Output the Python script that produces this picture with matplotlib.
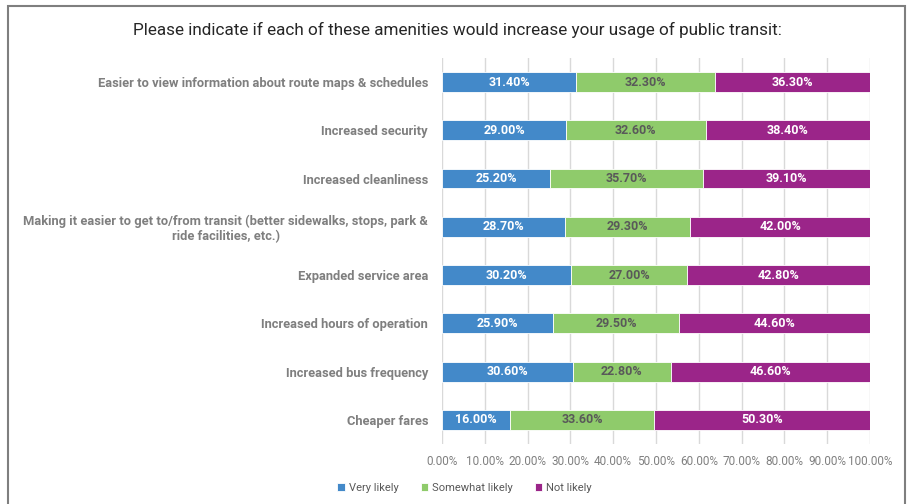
import numpy as np
import matplotlib.pyplot as plt
from matplotlib.patches import Rectangle

categories = [
    "Easier to view information about route maps & schedules",
    "Increased security",
    "Increased cleanliness",
    "Making it easier to get to/from transit (better sidewalks, stops, park &\nride facilities, etc.)",
    "Expanded service area",
    "Increased hours of operation",
    "Increased bus frequency",
    "Cheaper fares",
]
very_likely = [31.4, 29.0, 25.2, 28.7, 30.2, 25.9, 30.6, 16.0]
somewhat_likely = [32.3, 32.6, 35.7, 29.3, 27.0, 29.5, 22.8, 33.6]
not_likely = [36.3, 38.4, 39.1, 42.0, 42.8, 44.6, 46.6, 50.3]
series_names = ["Very likely", "Somewhat likely", "Not likely"]
colors = ["#4389C9", "#8FCB6B", "#9B2589"]
label_colors = ["white", "#595959", "white"]

plt.rcParams['font.family'] = ['Roboto', 'DejaVu Sans']

fig = plt.figure(figsize=(9.07, 5.04), dpi=100)
ax = fig.add_axes([0.4873, 0.119, 0.9592 - 0.4873, 0.766])

y = np.arange(len(categories))
left = np.zeros(len(categories))
for vals, name, col, lc in zip([very_likely, somewhat_likely, not_likely],
                               series_names, colors, label_colors):
    vals = np.array(vals)
    bars = ax.barh(y, vals, left=left, height=0.41, color=col, label=name,
                   edgecolor='white', linewidth=0.6, zorder=3)
    for b, v in zip(bars, vals):
        ax.text(b.get_x() + b.get_width() / 2, b.get_y() + b.get_height() / 2,
                f"{v:.2f}%", ha='center', va='center', color=lc,
                fontsize=9, fontweight='bold', zorder=4)
    left += vals

ax.set_xlim(0, 100)
ax.set_ylim(len(categories) - 0.5, -0.5)
ax.set_xticks(np.arange(0, 101, 10))
ax.set_xticklabels([f"{t:.2f}%" for t in np.arange(0, 101, 10)])
ax.set_yticks(y)
ax.set_yticklabels(categories, fontsize=9.3, fontweight='bold', color='#7F7F7F',
                   ha='right', multialignment='center')
ax.tick_params(axis='x', colors='#808080', labelsize=8.5, length=0, pad=8)
ax.tick_params(axis='y', length=0, pad=10)
for lab in ax.get_xticklabels():
    lab.set_color('#808080')
ax.grid(axis='x', color='#D9D9D9', linewidth=1, zorder=0)
for s in ax.spines.values():
    s.set_visible(False)

fig.text(0.504, 0.94, "Please indicate if each of these amenities would increase your usage of public transit:",
         ha='center', va='center', fontsize=12.3, color='#262626')

handles, labels = ax.get_legend_handles_labels()
fig.legend(handles, labels, loc='center', bbox_to_anchor=(0.512, 0.032), ncol=3,
           frameon=False, fontsize=8, labelcolor='#595959', handlelength=0.7,
           handleheight=0.7, handletextpad=0.3, columnspacing=2.0)

# chart border (cropped screenshot frame)
fig.patches.append(Rectangle((0.009, -0.05), 0.989, 1.038, transform=fig.transFigure,
                             fill=False, edgecolor='#7F7F7F', linewidth=1.5))

fig.savefig("out.png", dpi=100)
